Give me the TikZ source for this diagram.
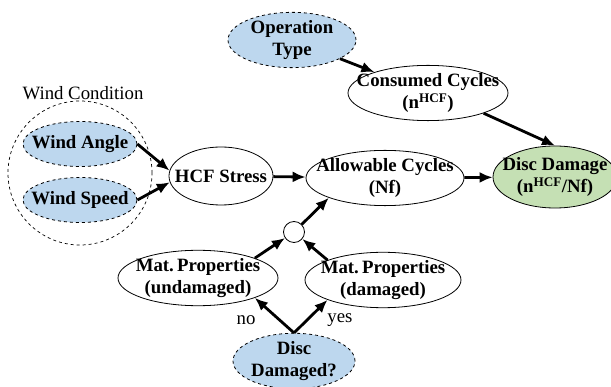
\documentclass[tikz,border=0pt]{standalone}
\usepackage{fontspec}
\setmainfont{Liberation Serif}
\usetikzlibrary{arrows.meta}
\usetikzlibrary{shapes.geometric}
\definecolor{inblue}{HTML}{BDD7EE}
\definecolor{outgreen}{HTML}{C5E0B4}

\begin{document}
\begin{tikzpicture}[x=1pt,y=-1pt,
  >={Latex[length=13pt,width=11pt]},font=\fontsize{18.8}{22}\selectfont,
  flow/.style={->,line width=2.8pt},
  var/.style={draw=black,ellipse,fill=white,line width=0.8pt,inner xsep=-20pt,inner ysep=0pt,align=center,font=\fontsize{18.8}{22}\selectfont\bfseries},
  given/.style={var,fill=inblue,dashed},
  result/.style={var,fill=outgreen},
  junc/.style={draw,circle,fill=white,line width=0.8pt,minimum size=21pt,inner sep=0pt}]
  \useasboundingbox (0,0) rectangle (611,387);

  % wind condition group
  \node [draw,circle,dashed,line width=0.7pt,minimum size=144pt,inner sep=0pt] (wcond) at (80,173) {};
  \node (wcondlbl) at (83,93) {Wind Condition};
  \node [given,minimum width=114pt,minimum height=45pt] (wangle) at (80,144) {Wind Angle};
  \node [given,minimum width=114pt,minimum height=45pt] (wspeed) at (80,200) {Wind Speed};

  \node [var,minimum width=104pt,minimum height=58pt] (hcf) at (221,176) {HCF Stress};
  \node [given,minimum width=128pt,minimum height=55pt] (optype) at (292,40) {Operation\\Type};
  \node [var,minimum width=160pt,minimum height=50pt] (cons) at (428,93) {Consumed Cycles\\(n\textsuperscript{HCF})};
  \node [var,minimum width=158pt,minimum height=52pt] (allow) at (385,178) {Allowable Cycles\\(Nf)};
  \node [result,minimum width=124pt,minimum height=62pt] (dmg) at (555,177) {Disc Damage\\(n\textsuperscript{HCF}/Nf)};

  \node [junc] (mix) at (294,232) {};
  \node [var,minimum width=160pt,minimum height=54pt] (matu) at (198,278) {Mat.\,Properties\\(undamaged)};
  \node [var,minimum width=156pt,minimum height=54pt] (matd) at (383,280) {Mat.\,Properties\\(damaged)};
  \node [given,minimum width=122pt,minimum height=52pt] (damq) at (294,361) {Disc\\Damaged?};
  \node (nolbl) at (246,320) {no};
  \node (yeslbl) at (340,320) {yes};

  \draw [flow] (wangle.east) -- (hcf.174);
  \draw [flow] (wspeed.east) -- (hcf.187);
  \draw [flow] (hcf) -- (allow);
  \draw [flow] (allow) -- (dmg);
  \draw [flow] (optype) -- (cons);
  \draw [flow] (cons.-20) -- (dmg.north);
  \draw [flow] (mix) -- (allow.south west);
  \draw [flow] (matu.north east) -- (mix);
  \draw [flow] (matd.north west) -- (mix);
  \draw [flow] (damq.north) -- (matu.south east);
  \draw [flow] (damq.north) -- (matd.south west);
\end{tikzpicture}
\end{document}
